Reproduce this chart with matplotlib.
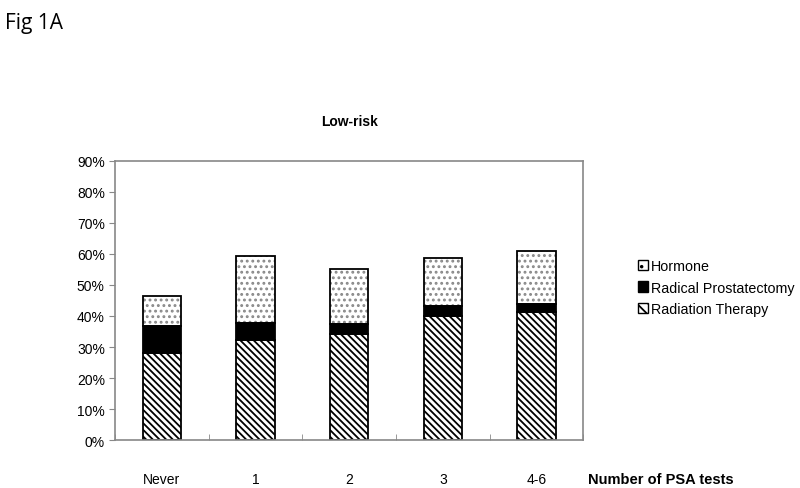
import numpy as np
import matplotlib.pyplot as plt
from matplotlib.patches import Patch

plt.rcParams["hatch.linewidth"] = 1.3

categories = ["Never", "1", "2", "3", "4-6"]
radiation = [28.0, 32.3, 34.2, 40.0, 41.3]
prostatectomy = [8.8, 5.5, 3.2, 3.2, 2.6]
hormone = [9.7, 21.6, 17.8, 15.5, 17.1]
yticks = [0, 10, 20, 30, 40, 50, 60, 70, 80, 90]

DIAG = "\\" * 5
DOTS = "..."

fig = plt.figure(figsize=(8, 4.89), dpi=100)
ax = fig.add_axes([0.144, 0.098, 0.585, 0.571])

x = np.arange(len(categories))
w = 0.41
rad = np.array(radiation)
rp = np.array(prostatectomy)
hor = np.array(hormone)

# fills first, then the black outlines on top
ax.bar(x, rad, w, color="white", edgecolor="black", hatch=DIAG, linewidth=0)
ax.bar(x, rp, w, bottom=rad, color="black", linewidth=0)
ax.bar(x, hor, w, bottom=rad + rp, color="white", edgecolor="#888888", hatch=DOTS, linewidth=0)
for bottom, height in [(0, rad), (rad, rp), (rad + rp, hor)]:
    ax.bar(x, height, w, bottom=bottom, fill=False, edgecolor="black", linewidth=1.3)

ax.set_xlim(-0.5, len(categories) - 0.5)
ax.set_ylim(0, 90)
ax.set_yticks(yticks)
ax.set_yticklabels([f"{v}%" for v in yticks], fontsize=10, family="Liberation Sans")
ax.set_xticks(x)
ax.set_xticklabels(categories, fontsize=10, family="Liberation Sans")
ax.set_xticks(np.arange(len(categories) + 1) - 0.5, minor=True)
ax.tick_params(axis="x", which="major", length=0, pad=23)
ax.tick_params(axis="x", which="minor", length=4, direction="in", color="#888888")
ax.tick_params(axis="y", length=4, color="#888888")
for s in ax.spines.values():
    s.set_color("#888888")
    s.set_linewidth(1.2)

ax.set_title("Low-risk", fontsize=10, fontweight="bold", family="Liberation Sans", pad=26)
fig.text(0.735, 0.005, "Number of PSA tests", fontsize=10.5, fontweight="bold",
         family="Liberation Sans", va="bottom")
fig.text(0.006, 0.94, "Fig 1A", fontsize=15, family="Open Sans")

handles = [
    Patch(facecolor="white", edgecolor="black", hatch="..", label="Hormone"),
    Patch(facecolor="black", edgecolor="black", label="Radical Prostatectomy"),
    Patch(facecolor="white", edgecolor="black", hatch="\\\\\\", label="Radiation Therapy"),
]
fig.legend(handles=handles, loc="center left", bbox_to_anchor=(0.782, 0.41),
           frameon=False, handlelength=0.7, handleheight=0.7, handletextpad=0.2,
           labelspacing=0.55, prop={"family": "Liberation Sans", "size": 10.3})

fig.savefig("out.png", dpi=100)
